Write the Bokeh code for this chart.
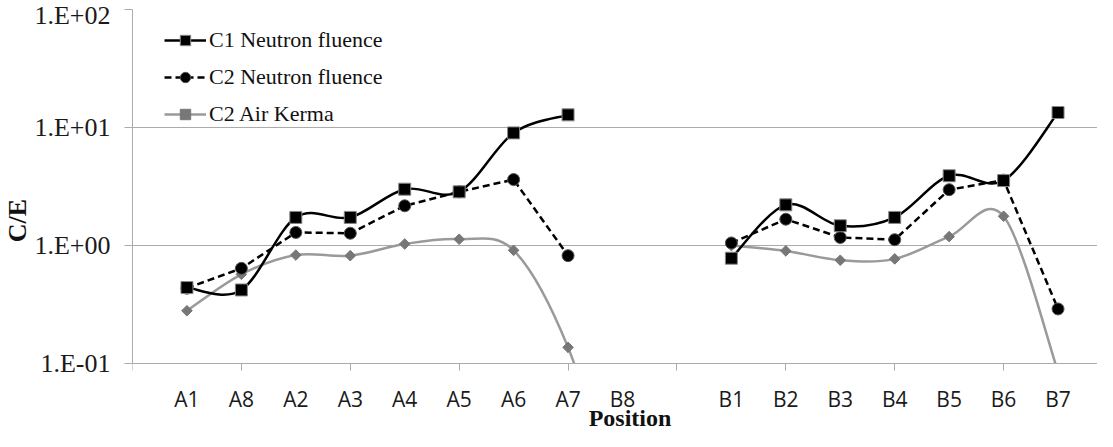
from bokeh.plotting import figure
from bokeh.models import (Range1d, FixedTicker, CustomJSTickFormatter, Legend,
                          LegendItem, BoxAnnotation, ColumnDataSource)
from bokeh.embed import file_html
from bokeh.resources import INLINE
import math

# ---------------- data ----------------
positions = ["", "A1", "A8", "A2", "A3", "A4", "A5", "A6", "A7", "B8",
             "", "B1", "B2", "B3", "B4", "B5", "B6", "B7"]
c1_fluence = [None, 0.44, 0.42, 1.73, 1.73, 3.0, 2.85, 9.0, 12.8, None,
              None, 0.78, 2.21, 1.47, 1.73, 3.9, 3.55, 13.4]
c2_fluence = [None, 0.435, 0.64, 1.29, 1.27, 2.17, 2.85, 3.62, 0.82, None,
              None, 1.05, 1.67, 1.17, 1.12, 2.97, 3.58, 0.29]
c2_kerma = [None, 0.28, 0.57, 0.83, 0.82, 1.03, 1.13, 0.91, 0.137, 0.005,
            None, 1.0, 0.90, 0.75, 0.77, 1.19, 1.77, 0.085]
y_ticks = [0.1, 1, 10, 100]
y_min, y_max = 0.1, 100

xs = list(range(len(positions)))
label_idx = [i for i, s in enumerate(positions) if s]


def smooth_segments(x, y):
    """Cubic Bezier pieces (Catmull-Rom style, in log space) through each run."""
    out = dict(x0=[], y0=[], x1=[], y1=[], cx0=[], cy0=[], cx1=[], cy1=[])
    runs, cur = [], []
    for xi, yi in zip(x, y):
        if yi is None:
            if cur:
                runs.append(cur)
            cur = []
        else:
            cur.append((xi, math.log10(yi)))
    if cur:
        runs.append(cur)
    for P in runs:
        n = len(P)
        for i in range(n - 1):
            p0 = P[i - 1] if i > 0 else P[i]
            p1, p2 = P[i], P[i + 1]
            p3 = P[i + 2] if i + 2 < n else P[i + 1]
            c1 = (p1[0] + (p2[0] - p0[0]) / 6, p1[1] + (p2[1] - p0[1]) / 6)
            c2 = (p2[0] - (p3[0] - p1[0]) / 6, p2[1] - (p3[1] - p1[1]) / 6)
            out["x0"].append(p1[0]); out["y0"].append(10 ** p1[1])
            out["x1"].append(p2[0]); out["y1"].append(10 ** p2[1])
            out["cx0"].append(c1[0]); out["cy0"].append(10 ** c1[1])
            out["cx1"].append(c2[0]); out["cy1"].append(10 ** c2[1])
    return out


def pts(x, y):
    return ColumnDataSource(dict(x=[a for a, b in zip(x, y) if b is not None],
                                 y=[b for b in y if b is not None]))


nan = float("nan")

# Canvas 1097 x 431; frame runs to the bottom of the canvas and the x axis is
# pinned at y = 0.1, with its labels drawn in the space below it.
W, H = 1097, 431
BORDER_L, BORDER_T = 131, 9
FRAME_H = H - BORDER_T
PLOT_H = 354            # pixels for the three decades 0.1 .. 100
CAT_W = 54.5            # pixels per category slot
y_lo = 10 ** (math.log10(y_max) - 3 * FRAME_H / PLOT_H)
x_hi = (W - BORDER_L) / CAT_W

p = figure(width=W, height=H, x_range=Range1d(0, x_hi),
           y_range=Range1d(y_lo, y_max), y_axis_type="log",
           output_backend="svg", toolbar_location=None,
           min_border_left=BORDER_L, min_border_right=0,
           min_border_top=BORDER_T, min_border_bottom=0)
p.outline_line_color = None
p.background_fill_color = "white"
p.border_fill_color = "white"

GRID = "#ababab"
p.xgrid.visible = False
p.ygrid.ticker = FixedTicker(ticks=y_ticks)
p.ygrid.grid_line_color = GRID

# y axis
p.yaxis.ticker = FixedTicker(ticks=y_ticks)
p.yaxis.bounds = (y_min, y_max)
p.yaxis.formatter = CustomJSTickFormatter(code="""
const e = Math.round(Math.log10(tick));
return "1.E" + (e < 0 ? "-" : "+") + String(Math.abs(e)).padStart(2, "0");
""")
p.yaxis.axis_line_color = GRID
p.yaxis.major_tick_line_color = GRID
p.yaxis.major_tick_out = 8
p.yaxis.major_tick_in = 0
p.yaxis.minor_tick_line_color = None
p.yaxis.major_label_standoff = 14
p.yaxis.major_label_text_font = "Liberation Serif"
p.yaxis.major_label_text_font_size = "26px"
p.yaxis.major_label_text_color = "#1a1a1a"
p.yaxis.axis_label = "C/E"
p.yaxis.axis_label_text_font = "Liberation Serif"
p.yaxis.axis_label_text_font_style = "bold"
p.yaxis.axis_label_text_font_size = "26px"
p.yaxis.axis_label_text_color = "#111111"
p.yaxis.axis_label_standoff = -1

# x axis (pinned at y = 0.1)
p.xaxis.fixed_location = y_min
p.xaxis.ticker = FixedTicker(ticks=label_idx, minor_ticks=list(range(0, 19, 2)))
p.xaxis.formatter = CustomJSTickFormatter(args=dict(labels=positions),
                                          code="return labels[Math.round(tick)] || '';")
p.xaxis.axis_line_color = GRID
p.xaxis.major_tick_line_color = None
p.xaxis.major_tick_out = 0
p.xaxis.major_tick_in = 0
p.xaxis.minor_tick_line_color = GRID
p.xaxis.minor_tick_out = 7
p.xaxis.minor_tick_in = 0
p.xaxis.major_label_standoff = 14
p.xaxis.major_label_text_font = "Open Sans"
p.xaxis.major_label_text_font_size = "21px"
p.xaxis.major_label_text_color = "#1a1a1a"
p.xaxis.axis_label = "\u00a0" * 5 + "Position"
p.xaxis.axis_label_text_font = "Liberation Serif"
p.xaxis.axis_label_text_font_style = "bold"
p.xaxis.axis_label_text_font_size = "24px"
p.xaxis.axis_label_text_color = "#111111"
p.xaxis.axis_label_standoff = -11

# series
BLACK = "#000000"
LGRAY = "#9a9a9a"
DGRAY = "#777777"

ak_curve = p.bezier(source=ColumnDataSource(smooth_segments(xs, c2_kerma)),
                    x0="x0", y0="y0", x1="x1", y1="y1", cx0="cx0", cy0="cy0",
                    cx1="cx1", cy1="cy1", line_color=LGRAY, line_width=2.5)
ak_pts = p.scatter("x", "y", source=pts(xs, c2_kerma), marker="square",
                   angle=math.pi / 4, size=7.5, fill_color=DGRAY,
                   line_color=DGRAY, line_width=1)

c2_line = p.line(xs, [nan if v is None else v for v in c2_fluence],
                 line_color=BLACK, line_width=2.5, line_dash="7 4")
c2_pts = p.scatter("x", "y", source=pts(xs, c2_fluence), marker="circle",
                   size=12, fill_color=BLACK, line_color="#555555", line_width=1)

c1_curve = p.bezier(source=ColumnDataSource(smooth_segments(xs, c1_fluence)),
                    x0="x0", y0="y0", x1="x1", y1="y1", cx0="cx0", cy0="cy0",
                    cx1="cx1", cy1="cy1", line_color=BLACK, line_width=2.5)
c1_pts = p.scatter("x", "y", source=pts(xs, c1_fluence), marker="square",
                   size=12, fill_color=BLACK, line_color="#888888", line_width=1)

# white mask below the value axis minimum (the plot area ends at 0.1)
p.add_layout(BoxAnnotation(top=y_min, fill_color="white", fill_alpha=1.0,
                           line_color=None, level="glyph"))

legend = Legend(items=[
    LegendItem(label="C1 Neutron fluence", renderers=[c1_curve, c1_pts]),
    LegendItem(label="C2 Neutron fluence", renderers=[c2_line, c2_pts]),
    LegendItem(label="C2 Air Kerma", renderers=[ak_curve, ak_pts]),
], location=(32, 304))
legend.label_text_font = "Liberation Serif"
legend.label_text_font_size = "22px"
legend.label_text_color = "#111111"
legend.glyph_width = 42
legend.glyph_height = 26
legend.label_height = 26
legend.spacing = 11
legend.padding = 0
legend.margin = 0
legend.label_standoff = 3
legend.border_line_color = None
legend.background_fill_alpha = 0
p.add_layout(legend)

open("out.html", "w").write(file_html(p, INLINE))
